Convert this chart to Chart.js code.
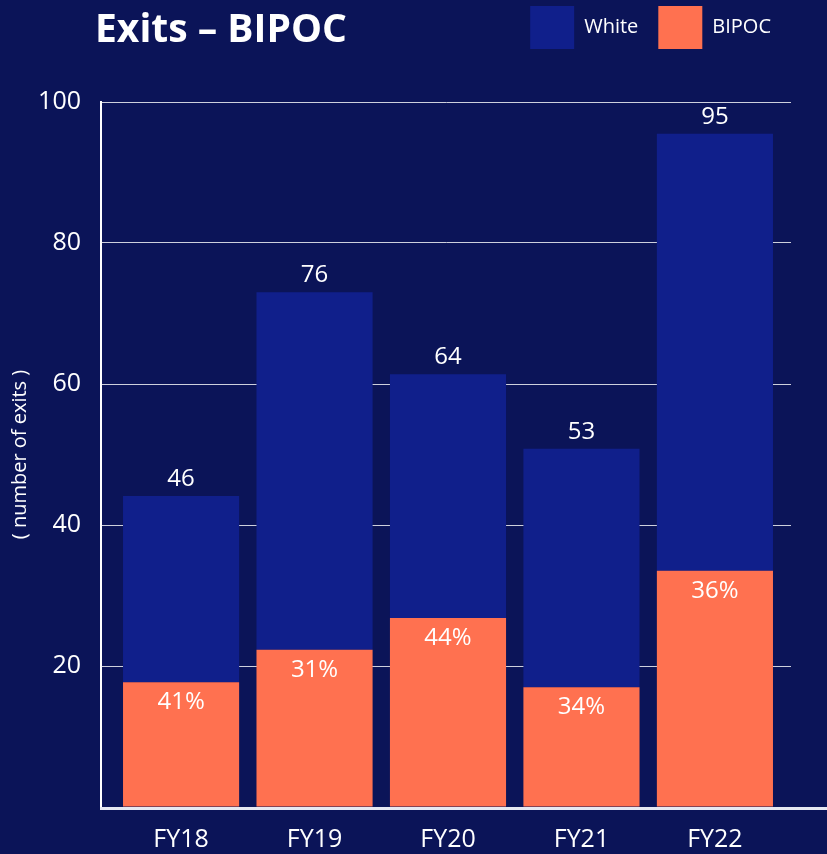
<!DOCTYPE html>
<html lang="en">
<head>
    <meta charset="UTF-8">
    <title>Exits - BIPOC</title>
    <script src="https://cdn.jsdelivr.net/npm/chart.js@4.4.0/dist/chart.umd.min.js"></script>
    <style>
        body { margin: 0; background: #0b1458; font-family: "Open Sans", sans-serif; }
        #wrap { position: relative; width: 827px; height: 854px; }
        #titulo { position: absolute; left: 95px; top: 0px; margin: 0; color: #fff; font-size: 39px; font-weight: 700; }
    </style>
</head>
<body>
    <div id="wrap">
        <h1 id="titulo">Exits – BIPOC</h1>
        <canvas id="myChart" width="827" height="854"></canvas>
    </div>
    <script>
        // values (bar heights as drawn)
        const years = ['FY18', 'FY19', 'FY20', 'FY21', 'FY22'];
        const bipoc = [17.7, 22.3, 26.8, 17.0, 33.5];
        const white = [26.4, 50.7, 34.6, 33.8, 62.0];
        // labels printed on the chart
        const totals = ['46', '76', '64', '53', '95'];
        const pcts = ['41%', '31%', '44%', '34%', '36%'];
        const yTicks = [20, 40, 60, 80, 100];

        const fuente = '"Open Sans", sans-serif';

        // space between legend and plot
        const legendGap = {
            id: 'legendGap',
            beforeInit(chart) {
                const fit = chart.legend.fit;
                chart.legend.fit = function () {
                    fit.bind(chart.legend)();
                    this.height += 43;
                };
            }
        };

        // totals above bars, percentages inside the BIPOC part
        const etiquetas = {
            id: 'etiquetas',
            afterDatasetsDraw(chart) {
                const ctx = chart.ctx;
                const metaB = chart.getDatasetMeta(0);
                const metaW = chart.getDatasetMeta(1);
                ctx.save();
                ctx.fillStyle = '#ffffff';
                ctx.textAlign = 'center';
                ctx.font = '24px ' + fuente;
                metaW.data.forEach((bar, i) => {
                    ctx.textBaseline = 'bottom';
                    ctx.fillText(totals[i], bar.x, bar.y - 5);
                });
                metaB.data.forEach((bar, i) => {
                    ctx.textBaseline = 'top';
                    ctx.fillText(pcts[i], bar.x, bar.y + 8);
                });
                // x axis line, runs on to the right edge
                const y0 = chart.scales.y.getPixelForValue(0);
                ctx.strokeStyle = '#e6e8f2';
                ctx.lineWidth = 3;
                ctx.beginPath();
                ctx.moveTo(chart.chartArea.left - 1, y0 + 1.5);
                ctx.lineTo(chart.width, y0 + 1.5);
                ctx.stroke();
                ctx.restore();
            }
        };

        const ctx = document.getElementById('myChart').getContext('2d');
        const myChart = new Chart(ctx, {
            type: 'bar',
            data: {
                datasets: [{
                    label: 'BIPOC',
                    data: bipoc.map((v, i) => ({ x: i, y: v })),
                    backgroundColor: '#ff7150'
                }, {
                    label: 'White',
                    data: white.map((v, i) => ({ x: i, y: v })),
                    backgroundColor: '#101f8b'
                }]
            },
            options: {
                responsive: false,
                animation: false,
                categoryPercentage: 1,
                barPercentage: 0.87,
                layout: { padding: { top: -14, right: 36, left: 0, bottom: 0 } },
                plugins: {
                    tooltip: { enabled: false },
                    legend: {
                        position: 'top',
                        align: 'end',
                        reverse: true,
                        labels: {
                            color: '#ffffff',
                            boxWidth: 44,
                            boxHeight: 43,
                            padding: 20,
                            font: { family: fuente, size: 20 }
                        }
                    }
                },
                scales: {
                    x: {
                        type: 'linear',
                        stacked: true,
                        offset: false,
                        min: -0.6,
                        max: 4.57,
                        grid: { display: false },
                        border: { display: false },
                        ticks: {
                            stepSize: 1,
                            includeBounds: false,
                            color: '#ffffff',
                            padding: 10,
                            font: { family: fuente, size: 25 },
                            callback: (v) => years[v]
                        },
                        afterFit: (scale) => { scale.height = 47; }
                    },
                    y: {
                        stacked: true,
                        min: 0,
                        max: 100,
                        grid: { color: 'rgba(255,255,255,0.8)', lineWidth: 1, drawTicks: false },
                        border: { color: '#ffffff', width: 2 },
                        ticks: {
                            stepSize: 20,
                            color: '#ffffff',
                            padding: 20,
                            font: { family: fuente, size: 25 },
                            callback: (v) => yTicks.includes(v) ? v : ''
                        },
                        title: {
                            display: true,
                            text: '( number of exits )',
                            color: '#ffffff',
                            padding: { top: 8, bottom: 0 },
                            font: { family: fuente, size: 20 }
                        },
                        afterFit: (scale) => { scale.width = 101; }
                    }
                }
            },
            plugins: [legendGap, etiquetas]
        });
    </script>
</body>
</html>
